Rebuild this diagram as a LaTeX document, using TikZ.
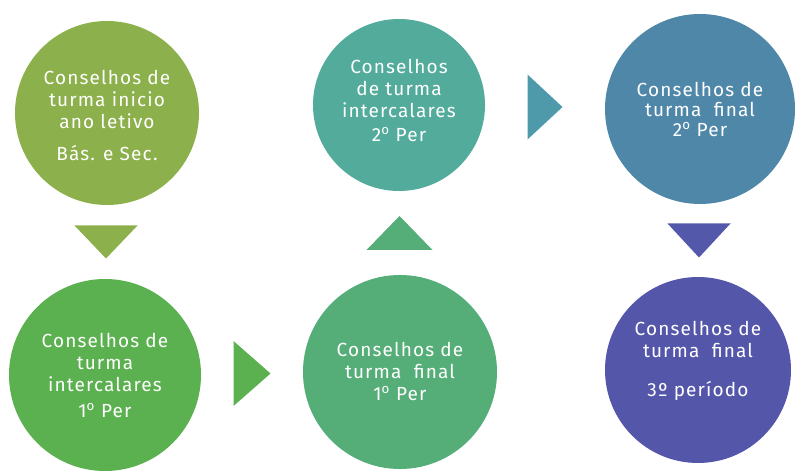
\documentclass[tikz,border=0pt]{standalone}
\usepackage{fontspec}
\setmainfont{Fira Sans}[LetterSpace=6]
\usetikzlibrary{calc}

\definecolor{cor1}{HTML}{8CB04B}
\definecolor{cor2}{HTML}{5BB04F}
\definecolor{cor3}{HTML}{55AD78}
\definecolor{cor4}{HTML}{52AB9B}
\definecolor{cor5}{HTML}{4F87A9}
\definecolor{cor6}{HTML}{5456AA}
\definecolor{seta4}{HTML}{4E9AAB}

\begin{document}
\begin{tikzpicture}[x=1pt,y=1pt,
		etapa/.style={circle,draw=none,inner sep=0pt},
		texto/.style={text=white,align=center,font=\fontsize{19}{22}\selectfont}]
		\useasboundingbox (0,0) rectangle (797,471);

		% circulos
		\node[etapa,fill=cor1,minimum size=184pt] (c1) at (107,358) {};
		\node[etapa,fill=cor2,minimum size=192pt] (c2) at (105,96) {};
		\node[etapa,fill=cor3,minimum size=194pt] (c3) at (400,99) {};
		\node[etapa,fill=cor4,minimum size=172pt] (c4) at (399,366) {};
		\node[etapa,fill=cor5,minimum size=190pt] (c5) at (700,362) {};
		\node[etapa,fill=cor6,minimum size=186pt] (c6) at (698,101) {};

		% textos
		\node[texto] (t1) at ([yshift=-2pt]c1) {Conselhos de\\turma inicio\\ano letivo\\[10pt]Bás. e Sec.};
		\node[texto] (t2) at (c2) {Conselhos de\\turma\\intercalares\\[4pt]1\textsuperscript{o} Per};
		\node[texto] (t3) at ([yshift=1pt]c3) {Conselhos de\\turma~~final\\1\textsuperscript{o} Per};
		\node[texto] (t4) at ([yshift=5pt]c4) {Conselhos\\de turma\\intercalares\\[2pt]2\textsuperscript{o} Per};
		\node[texto,font=\fontsize{19}{20}\selectfont] (t5) at (c5) {Conselhos de\\turma~~final\\2\textsuperscript{o} Per};
		\node[texto] (t6) at ([yshift=9pt]c6) {Conselhos de\\turma~~final\\[17pt]3º período};

		% setas
		\coordinate (s1) at ($(c1.south)!.5!(c2.north)$);
		\coordinate (s2) at ($(c2.east)!.5!(c3.west)$);
		\coordinate (s3) at ($(c3.north)!.5!(c4.south)$);
		\coordinate (s4) at ($(c4.east)!.5!(c5.west)$);
		\coordinate (s5) at ($(c5.south)!.5!(c6.north)$);

		\fill[cor1] (s1) ++(-31.5,16.5) -- ++(63,0) -- ++(-31.5,-33) -- cycle;
		\fill[cor2] (s2) ++(-18.5,32.5) -- ++(0,-65) -- ++(37,32.5) -- cycle;
		\fill[cor3] (s3) ++(-33,-17) -- ++(66,0) -- ++(-33,34) -- cycle;
		\fill[seta4] (s4) ++(-17.5,32.5) -- ++(0,-65) -- ++(35,32.5) -- cycle;
		\fill[cor6!95!cor5] (s5) ++(-31.5,17) -- ++(63,0) -- ++(-31.5,-34) -- cycle;
	\end{tikzpicture}
\end{document}
